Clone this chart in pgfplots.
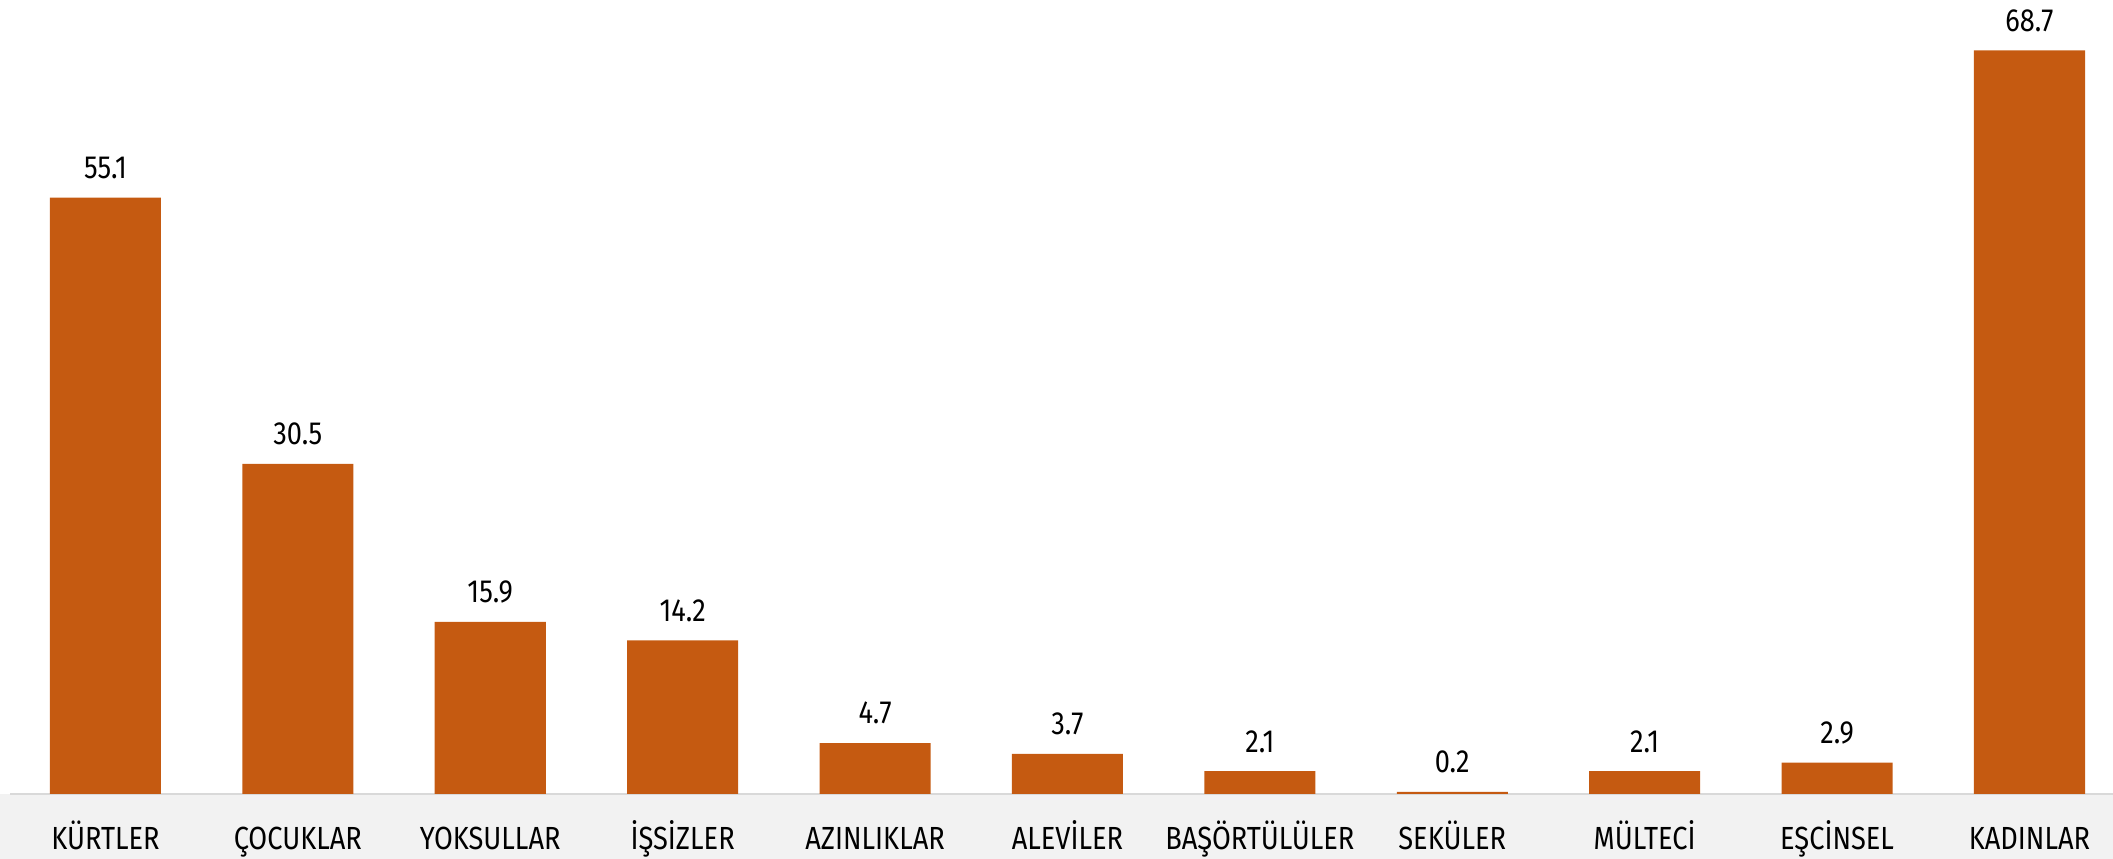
\documentclass[border=0pt]{standalone}
\usepackage{fontspec}
\setmainfont{Fira Sans}[FakeStretch=0.85]
\usepackage{pgfplots}
\pgfplotsset{compat=1.18}

\definecolor{barorange}{HTML}{C55A11}
\definecolor{bandgray}{HTML}{F2F2F2}
\definecolor{linegray}{HTML}{D9D9D9}

\begin{document}
\begin{tikzpicture}
\begin{axis}[
    name=ax,
    set layers,
    scale only axis,
    width=528.25pt, height=198.5pt,
    xmin=-0.548, xmax=10.434,
    ymin=0, ymax=73.35,
    clip=false,
    axis line style={draw=none},
    tick style={draw=none},
    ytick=\empty,
    xtick={0,...,10},
    xticklabels={KÜRTLER,ÇOCUKLAR,YOKSULLAR,İŞSİZLER,AZINLIKLAR,ALEVİLER,BAŞÖRTÜLÜLER,SEKÜLER,MÜLTECİ,EŞCİNSEL,KADINLAR},
    xticklabel style={font=\fontsize{8}{9}\selectfont, anchor=base, inner sep=0pt, yshift=-9.5pt},
    ybar, bar width=0.577, bar shift=0pt,
    nodes near coords,
    point meta=explicit symbolic,
    every node near coord/.append style={font=\fontsize{8}{9}\selectfont, anchor=south, inner sep=0pt, yshift=4.5pt},
]
% grey band under the bars
\begin{pgfonlayer}{axis background}
\fill[bandgray] (rel axis cs:0,0) rectangle ([yshift=-16.25pt]rel axis cs:1,0);
\draw[linegray, line width=0.5pt] ([xshift=2.5pt]rel axis cs:0,0) -- (rel axis cs:1,0);
\end{pgfonlayer}

\addplot[fill=barorange, draw=none] coordinates {
    (0,55.1) [55.1]
    (1,30.5) [30.5]
    (2,15.9) [15.9]
    (3,14.2) [14.2]
    (4,4.7)  [4.7]
    (5,3.7)  [3.7]
    (6,2.1)  [2.1]
    (7,0.2)  [0.2]
    (8,2.1)  [2.1]
    (9,2.9)  [2.9]
    (10,68.7) [68.7]
};
\end{axis}
\pgfresetboundingbox
\useasboundingbox ([yshift=-16.25pt]ax.south west) rectangle (ax.north east);
\end{tikzpicture}
\end{document}
